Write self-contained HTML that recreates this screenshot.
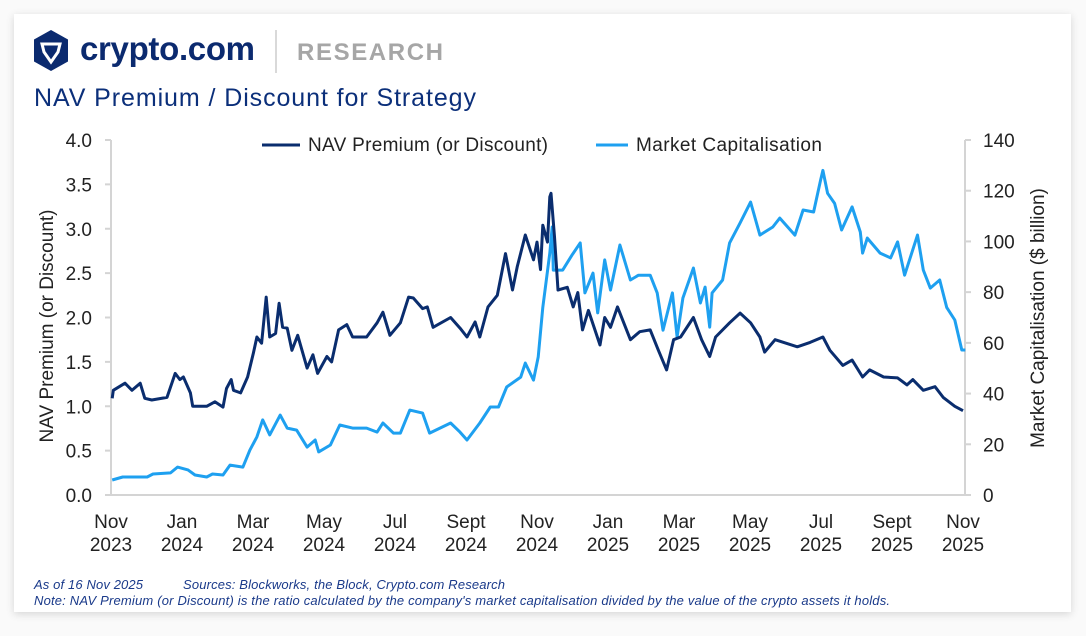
<!DOCTYPE html>
<html><head><meta charset="utf-8"><style>
body{margin:0;width:1086px;height:636px;background:#fafafa;font-family:"Liberation Sans",sans-serif;overflow:hidden}
#card{position:absolute;left:14px;top:14px;width:1057px;height:598px;background:#fff;box-shadow:0 2px 8px rgba(0,0,0,0.15)}
</style></head><body>
<div id="card"></div>
<svg id="s" width="1086" height="636" style="position:absolute;left:0;top:0">
<g>
<polygon points="51,30 68,39.5 68,61.5 51,71 34,61.5 34,39.5" fill="#0b2a6f"/>
<path d="M42,44 L60,44 L58,52 L51,62 L44,52 Z" fill="none" stroke="#fff" stroke-width="3"/>
<text x="80" y="60" font-size="33" font-weight="bold" fill="#0b2a6f" textLength="175">crypto.com</text>
</g>
<line x1="276" y1="30" x2="276" y2="73" stroke="#ccc" stroke-width="1.5"/>
<text x="297" y="60" font-size="24" font-weight="bold" fill="#a6a6a6" textLength="146">RESEARCH</text>
<text x="34" y="106" font-size="25" fill="#0b2f7a" textLength="442">NAV Premium / Discount for Strategy</text>
<g>
<line x1="262" y1="145" x2="300" y2="145" stroke="#0a2d6e" stroke-width="3"/>
<text x="308" y="151" font-size="19" fill="#222" textLength="240">NAV Premium (or Discount)</text>
<line x1="596" y1="145" x2="628" y2="145" stroke="#1ea0f0" stroke-width="3"/>
<text x="636" y="151" font-size="19" fill="#222" textLength="186">Market Capitalisation</text>
</g>
<g id="axes"></g>
<g id="marks"></g>
<text transform="translate(53,326) rotate(-90)" text-anchor="middle" font-size="19" fill="#222">NAV Premium (or Discount)</text>
<text transform="translate(1044,318) rotate(-90)" text-anchor="middle" font-size="19" fill="#222">Market Capitalisation ($ billion)</text>
<g font-size="13" font-style="italic" fill="#1a3a8a">
<text x="34" y="589" textLength="109">As of 16 Nov 2025</text>
<text x="183" y="589" textLength="322">Sources: Blockworks, the Block, Crypto.com Research</text>
<text x="34" y="605" textLength="856">Note: NAV Premium (or Discount) is the ratio calculated by the company's market capitalisation divided by the value of the crypto assets it holds.</text>
</g>
</svg>
<script>
const xTickLabels=[["Nov","2023"],["Jan","2024"],["Mar","2024"],["May","2024"],["Jul","2024"],["Sept","2024"],["Nov","2024"],["Jan","2025"],["Mar","2025"],["May","2025"],["Jul","2025"],["Sept","2025"],["Nov","2025"]];
const leftTicks=[0,0.5,1,1.5,2,2.5,3,3.5,4];
const rightTicks=[0,20,40,60,80,100,120,140];
const navDays=[1,2,12,18,25,29,35,48,55,59,62,68,70,82,89,96,99,103,105,111,117,122,125,129,133,136,141,144,147,151,155,160,168,173,177,185,189,195,202,207,219,228,233,239,248,255,259,267,271,276,291,299,305,312,316,323,331,338,344,348,355,362,365,368,370,374,376,377,380,383,391,396,400,404,409,419,423,428,434,445,453,462,469,476,482,488,499,506,513,518,530,539,548,556,560,569,588,599,610,616,627,635,644,650,662,674,682,687,696,706,713,723,730];
const navValues=[1.09,1.18,1.26,1.18,1.26,1.09,1.07,1.1,1.37,1.3,1.33,1.15,1.0,1.0,1.05,0.99,1.2,1.3,1.18,1.15,1.33,1.6,1.78,1.71,2.23,1.78,1.82,2.16,1.89,1.88,1.63,1.8,1.43,1.58,1.37,1.56,1.5,1.86,1.92,1.78,1.78,1.94,2.06,1.8,1.94,2.23,2.22,2.1,2.12,1.89,2.0,1.88,1.78,1.95,1.78,2.12,2.25,2.72,2.31,2.57,2.93,2.65,2.85,2.54,3.04,2.85,3.36,3.4,2.91,2.31,2.34,2.12,2.28,1.86,2.08,1.69,2.0,1.89,2.12,1.75,1.84,1.86,1.63,1.41,1.75,1.78,2.0,1.75,1.56,1.78,1.94,2.05,1.94,1.78,1.61,1.75,1.67,1.72,1.78,1.63,1.46,1.52,1.33,1.41,1.33,1.32,1.24,1.3,1.18,1.22,1.1,1.0,0.95];
const mcapDays=[1,10,31,36,51,57,66,72,82,87,96,102,113,119,125,130,136,145,151,159,168,175,178,188,196,207,219,228,233,242,248,256,267,273,291,299,305,316,325,332,339,351,355,362,366,370,376,378,379,387,395,402,406,413,417,423,428,436,445,452,462,468,473,481,485,490,499,505,509,513,515,524,530,539,548,556,567,573,586,593,602,608,610,614,620,626,635,642,644,648,659,668,674,680,691,696,702,710,716,723,729,732];
const mcapValues=[5.9,7.1,7.1,8.3,8.7,11,9.9,7.9,7.1,8.3,7.9,11.8,11,17.7,22.9,29.6,23.7,31.5,26.4,25.6,18.9,21.7,17,19.7,27.6,26.4,26.4,24.8,28.4,24.4,24.4,33.5,32.3,24.4,28.4,24.8,21.7,28.4,34.7,34.7,42.6,46.5,52,45.3,54.4,74,95.4,105.7,88.7,88.7,94.6,99.4,79.7,87.5,71.8,92.7,80.8,98.6,84.8,86.7,86.7,79.7,65,79.7,62.3,77.7,89.5,75.7,82,66.2,79.7,84.8,99.4,107.3,115.5,102.5,105.7,109.2,102.5,112.4,111.6,124.2,128,119,115,104.5,113.6,103.7,95.4,101.3,95.4,93.5,99.8,86.7,102.5,88.7,81.6,84.8,74,69,57.2,57.2];

const X0=111,X1=963,Y0=495,Y1=140;
const xScale=d=>X0+(X1-X0)*d/730;
const yL=v=>Y0-(Y0-Y1)*v/4;
const yR=v=>Y0-(Y0-Y1)*v/140;
const NS="http://www.w3.org/2000/svg";
const axes=document.getElementById('axes'),marks=document.getElementById('marks');
function mk(tag,attrs,parent){const e=document.createElementNS(NS,tag);for(const k in attrs)e.setAttribute(k,attrs[k]);parent.appendChild(e);return e;}
let e=mk('line',{x1:X0,y1:Y1,x2:X0,y2:Y0,stroke:'#d4d4d4','stroke-width':2},axes);


e=mk('line',{x1:965,y1:Y1,x2:965,y2:Y0,stroke:'#d4d4d4','stroke-width':2},axes);


e=mk('line',{x1:X0,y1:Y0,x2:965,y2:Y0,stroke:'#d4d4d4','stroke-width':2},axes);


leftTicks.forEach(v=>{const y=yL(v);mk('line',{x1:X0-6,y1:y,x2:X0,y2:y,stroke:'#d4d4d4','stroke-width':2},axes);
 const t=mk('text',{x:92,y:y+7,'text-anchor':'end','font-size':19,fill:'#222'},axes);t.textContent=v.toFixed(1);
 
 });
rightTicks.forEach(v=>{const y=yR(v);mk('line',{x1:965,y1:y,x2:971,y2:y,stroke:'#d4d4d4','stroke-width':2},axes);
 const t=mk('text',{x:983,y:y+7,'font-size':19,fill:'#222'},axes);t.textContent=v;
 
 });
xTickLabels.forEach((l,i)=>{const x=X0+(X1-X0)*i/12;
 const t=mk('text',{x:x,y:528,'text-anchor':'middle','font-size':19,fill:'#222'},axes);
 
 
 mk('tspan',{x:x,dy:0},t).textContent=l[0];mk('tspan',{x:x,dy:23},t).textContent=l[1];});
function line(days,vals,ys,col){return mk('polyline',{points:days.map((d,i)=>xScale(d).toFixed(1)+','+ys(vals[i]).toFixed(1)).join(' '),fill:'none',stroke:col,'stroke-width':3,'stroke-linejoin':'round'},marks);}
e=line(mcapDays,mcapValues,yR,'#1ea0f0');


e=line(navDays,navValues,yL,'#0a2d6e');


</script>
</body></html>
